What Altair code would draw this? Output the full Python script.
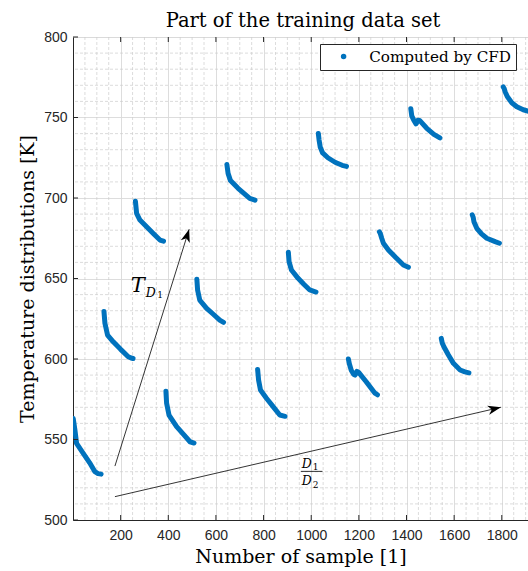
import math
import altair as alt
import pandas as pd

# ---------------- data ----------------
seg_x = [
    [1, 8, 15, 43, 70, 92, 105, 118],
    [130, 134, 145, 169, 200, 232, 244, 252],
    [262, 267, 281, 309, 337, 365, 380],
    [390, 393, 403, 435, 463, 491, 508],
    [520, 523, 532, 561, 589, 616, 632],
    [646, 651, 661, 693, 742, 764],
    [775, 779, 787, 812, 840, 868, 890],
    [904, 907, 917, 945, 970, 994, 1020],
    [1030, 1033, 1038, 1048, 1070, 1100, 1130, 1148],
    [1156, 1160, 1168, 1178, 1184, 1192, 1200, 1230, 1266, 1278],
    [1286, 1290, 1296, 1303, 1324, 1355, 1387, 1408],
    [1418, 1422, 1430, 1440, 1448, 1455, 1485, 1515, 1540],
    [1546, 1550, 1557, 1576, 1597, 1625, 1645, 1662],
    [1676, 1680, 1683, 1695, 1715, 1737, 1772, 1790],
    [1806, 1810, 1814, 1823, 1842, 1863, 1890, 1920],
]
seg_y = [
    [563, 556, 547.6, 541.4, 535.5, 530, 528.8, 528.5],
    [629.5, 622.2, 614.9, 610.7, 606, 601.4, 600.6, 600.3],
    [698, 690.5, 686.3, 682.2, 678, 673.9, 673.2],
    [580, 572.5, 565.2, 558, 553.3, 548.6, 547.8],
    [649.5, 642.9, 636.6, 631.5, 627.8, 624.2, 622.8],
    [720.8, 715.3, 710.8, 706, 699.8, 698.7],
    [593.5, 587, 580.7, 575.6, 570.4, 565.2, 564.4],
    [666.3, 660.4, 655.3, 650.1, 646.3, 642.9, 641.6],
    [740, 736, 731.5, 728, 725, 722.2, 720.3, 719.6],
    [600, 597, 593, 590.5, 590, 592.3, 591.5, 586, 579, 577.8],
    [679, 678, 675, 671.9, 667.7, 663, 658.4, 657],
    [755.5, 751, 748.5, 746, 748.3, 748.2, 743.3, 739.5, 737.3],
    [612.8, 610, 607.6, 602.5, 597.3, 593.2, 592, 591.4],
    [689.5, 688, 685.3, 681.2, 677.7, 675, 672.9, 671.9],
    [769, 768, 766, 763, 759.2, 756.7, 754.8, 753.5],
]
series_name = "Computed by CFD"
title_text = "Part of the training data set"

x_ticks = [200, 400, 600, 800, 1000, 1200, 1400, 1600, 1800]
y_ticks = [500, 550, 600, 650, 700, 750, 800]
x_domain = [0, 1910]
y_domain = [500, 800]

# annotation arrows (start -> tip), in data units
arrow_x1 = [176, 176]
arrow_y1 = [533.5, 514.5]
arrow_x2 = [487.6, 1796]
arrow_y2 = [680.6, 570]

# annotation texts
ital_text = ["T", "D", "D", "D"]
ital_x = [242, 305, 960, 960]
ital_y = [641.4, 638.7, 532.5, 521.7]
ital_size = [21, 12.5, 12.5, 12.5]
sub_text = ["1", "1", "2"]
sub_x = [354, 1006, 1006]
sub_y = [638.0, 531.2, 520.0]
sub_size = [9, 9, 9]
frac_x1 = [957]
frac_x2 = [1047]
frac_y = [530.2]

W, H = 455, 483

# ---------------- tables ----------------
rows = []
for i, (xs, ys) in enumerate(zip(seg_x, seg_y)):
    for j, (a, b) in enumerate(zip(xs, ys)):
        rows.append({"seg": i, "order": j, "x": a, "y": b, "series": series_name})
df = pd.DataFrame(rows)

sx = W / (x_domain[1] - x_domain[0])
sy = H / (y_domain[1] - y_domain[0])
angles = []
for a1, b1, a2, b2 in zip(arrow_x1, arrow_y1, arrow_x2, arrow_y2):
    dxs = (a2 - a1) * sx
    dys = -(b2 - b1) * sy
    angles.append(math.degrees(math.atan2(dxs, -dys)) % 360)
arrows = pd.DataFrame({"x1": arrow_x1, "y1": arrow_y1, "x2": arrow_x2,
                       "y2": arrow_y2, "angle": angles})

minor_x = [v for v in range(50, 1901, 50) if v % 200 != 0]
minor_y = [v for v in range(510, 800, 10) if v % 50 != 0]

XS = alt.Scale(domain=x_domain, nice=False, zero=False)
YS = alt.Scale(domain=y_domain, nice=False, zero=False)

common_axis = dict(grid=True, gridColor="#d9d9d9", gridWidth=0.9, ticks=False,
                   format="d",
                   domainColor="#262626", labelColor="#262626",
                   labelFont="Liberation Sans", labelFontSize=14,
                   titleFont="DejaVu Serif", titleFontSize=19,
                   titleFontWeight="normal", titleColor="black")

x_axis = alt.Axis(values=x_ticks, labelPadding=8, titleBaseline="alphabetic",
                  titleY=42, **common_axis)
y_axis = alt.Axis(values=y_ticks, labelPadding=6, titleAngle=-90,
                  titleBaseline="alphabetic", titleAlign="center",
                  titleX=-40, titleY=H / 2, **common_axis)

# the first layers carry the axes; later layers leave the axis unspecified
grid_minor_x = alt.Chart(pd.DataFrame({"v": minor_x})).mark_rule(
    color="#cdcdcd", strokeWidth=0.7, strokeDash=[3, 2]
).encode(x=alt.X("v:Q", scale=XS, title="Number of sample [1]", axis=x_axis))

grid_minor_y = alt.Chart(pd.DataFrame({"v": minor_y})).mark_rule(
    color="#cdcdcd", strokeWidth=0.7, strokeDash=[3, 2]
).encode(y=alt.Y("v:Q", scale=YS, title="Temperature distributions [K]",
                 axis=y_axis))

lines = alt.Chart(df).mark_line(
    strokeWidth=5, strokeCap="round", strokeJoin="round", clip=True
).encode(
    x=alt.X("x:Q", scale=XS),
    y=alt.Y("y:Q", scale=YS),
    detail="seg:N",
    order="order:Q",
    color=alt.Color("series:N", title=None,
                    scale=alt.Scale(domain=[series_name], range=["#0072BD"]),
                    legend=alt.Legend(orient="none", legendX=247, legendY=7,
                                      symbolType="circle", symbolSize=30,
                                      symbolFillColor="#0072BD",
                                      symbolStrokeColor="#0072BD",
                                      symbolStrokeWidth=0, symbolOffset=11,
                                      labelOffset=18, padding=5,
                                      strokeColor="#262626", fillColor="white",
                                      labelFont="DejaVu Serif", labelFontSize=15.2,
                                      labelColor="black", labelLimit=400)),
)

tick_df = pd.DataFrame({"v": x_ticks})
ticks_bottom = alt.Chart(tick_df).mark_rule(color="#262626", strokeWidth=1).encode(
    x=alt.X("v:Q", scale=XS), y=alt.value(H), y2=alt.value(H - 5))
ticks_top = alt.Chart(tick_df).mark_rule(color="#262626", strokeWidth=1).encode(
    x=alt.X("v:Q", scale=XS), y=alt.value(0), y2=alt.value(5))
ticks_left = alt.Chart(pd.DataFrame({"v": y_ticks})).mark_rule(
    color="#262626", strokeWidth=1).encode(
    y=alt.Y("v:Q", scale=YS), x=alt.value(0), x2=alt.value(5))

arrow_lines = alt.Chart(arrows).mark_rule(color="black", strokeWidth=0.8).encode(
    x=alt.X("x1:Q", scale=XS), y=alt.Y("y1:Q", scale=YS),
    x2="x2:Q", y2="y2:Q")

arrow_heads = alt.Chart(arrows).mark_point(
    shape="M0,0 L0.36,1 L0,0.72 L-0.36,1 Z", filled=True, color="black",
    opacity=1, size=676, strokeWidth=0
).encode(
    x=alt.X("x2:Q", scale=XS), y=alt.Y("y2:Q", scale=YS),
    angle=alt.Angle("angle:Q", scale=None))

ital = alt.Chart(pd.DataFrame({"x": ital_x, "y": ital_y, "t": ital_text,
                               "s": ital_size})).mark_text(
    font="DejaVu Serif", fontStyle="italic", align="left",
    baseline="alphabetic", color="black"
).encode(x=alt.X("x:Q", scale=XS), y=alt.Y("y:Q", scale=YS),
         text="t:N", size=alt.Size("s:Q", scale=None))

subs = alt.Chart(pd.DataFrame({"x": sub_x, "y": sub_y, "t": sub_text,
                               "s": sub_size})).mark_text(
    font="DejaVu Serif", align="left", baseline="alphabetic", color="black"
).encode(x=alt.X("x:Q", scale=XS), y=alt.Y("y:Q", scale=YS),
         text="t:N", size=alt.Size("s:Q", scale=None))

frac = alt.Chart(pd.DataFrame({"x1": frac_x1, "x2": frac_x2, "y": frac_y})).mark_rule(
    color="black", strokeWidth=0.8).encode(
    x=alt.X("x1:Q", scale=XS), x2="x2:Q",
    y=alt.Y("y:Q", scale=YS))

title_mark = alt.Chart(pd.DataFrame({"t": [title_text]})).mark_text(
    font="DejaVu Serif", fontSize=19.5, color="black", align="center",
    baseline="alphabetic"
).encode(x=alt.value(230), y=alt.value(-10), text="t:N")

chart = alt.layer(
    grid_minor_x, grid_minor_y, lines, ticks_bottom, ticks_top, ticks_left,
    arrow_lines, arrow_heads, ital, subs, frac, title_mark
).properties(
    width=W, height=H,
    autosize=alt.AutoSizeParams(type="none"),
    padding={"left": 73, "top": 37, "right": 0, "bottom": 51},
).configure_view(stroke="#262626", strokeWidth=1).configure(background="white")

chart.save("out.html", embed_options={"renderer": "svg", "actions": False})
